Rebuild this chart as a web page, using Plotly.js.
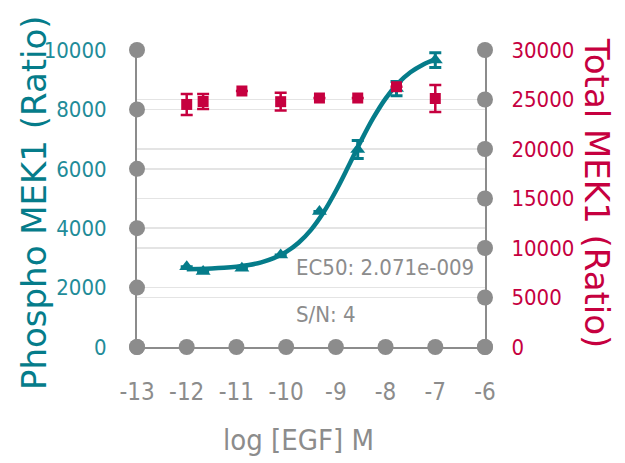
<!DOCTYPE html>
<html>
<head>
<meta charset="utf-8">
<script src="https://cdn.plot.ly/plotly-3.0.1.min.js"></script>
<style>html,body{margin:0;padding:0;background:#fff;}#chart{width:625px;height:463px;}</style>
</head>
<body>
<div id="chart"></div>
<script>
// ---- data ----
const logEGF = [-12, -11.67, -10.89, -10.11, -9.33, -8.56, -7.78, -7];
const phosphoMEK1 = [2700, 2540, 2650, 3100, 4560, 6650, 8700, 9660];
const phosphoErr = [0, 0, 0, 0, 0, 300, 240, 250];
const totalMEK1 = [24500, 24800, 25860, 24780, 25150, 25150, 26290, 25100];
const totalErr = [1060, 760, 0, 900, 0, 0, 0, 1360];
// fitted curve
const curveX = [-12, -11.75, -11.5, -11.25, -11, -10.75, -10.5, -10.25, -10, -9.75, -9.5, -9.25, -9, -8.75, -8.5, -8.25, -8, -7.75, -7.5, -7.25, -7];
const curveY = [2616, 2626, 2641, 2665, 2702, 2761, 2852, 2992, 3202, 3510, 3945, 4527, 5252, 6074, 6920, 7703, 8363, 8876, 9249, 9507, 9681];
const xTicks = [-13, -12, -11, -10, -9, -8, -7, -6];
const xTickText = ['-13', '-12', '-11', '-10', '-9', '-8', '-7', '-6'];
const leftTicks = [0, 2000, 4000, 6000, 8000, 10000];
const leftTickText = ['0', '2000', '4000', '6000', '8000', '10000'];
const rightTicks = [0, 5000, 10000, 15000, 20000, 25000, 30000];
const rightTickText = ['0', '5000', '10000', '15000', '20000', '25000', '30000'];
const ec50Text = 'EC50: 2.071e-009';
const snText = 'S/N: 4';

const teal = '#057C8A';
const tealTick = '#1F8C99';
const crimson = '#C6003F';
const grey = '#8C8C8C';
const narrow = '"DejaVu Sans Condensed", "DejaVu Sans", sans-serif';

const traces = [
  {x: curveX, y: curveY, mode: 'lines', line: {color: teal, width: 4.5, shape: 'spline'}, hoverinfo: 'skip', xaxis: 'x', yaxis: 'y'},
  {x: logEGF, y: phosphoMEK1, mode: 'markers', marker: {symbol: 'triangle-up', size: 13, color: teal},
   error_y: {type: 'data', array: phosphoErr, visible: true, color: teal, thickness: 3, width: 6}, xaxis: 'x', yaxis: 'y'},
  {x: logEGF, y: totalMEK1, mode: 'markers', marker: {symbol: 'square', size: 11, color: crimson},
   error_y: {type: 'data', array: totalErr, visible: true, color: crimson, thickness: 2.5, width: 6}, xaxis: 'x', yaxis: 'y2'},
  // tick dots
  {x: xTicks, y: xTicks.map(() => 0), mode: 'markers', marker: {size: 16, color: grey}, cliponaxis: false, hoverinfo: 'skip', xaxis: 'x', yaxis: 'y'},
  {x: leftTicks.map(() => xTicks[0]), y: leftTicks, mode: 'markers', marker: {size: 16, color: grey}, cliponaxis: false, hoverinfo: 'skip', xaxis: 'x', yaxis: 'y'},
  {x: rightTicks.map(() => xTicks[xTicks.length - 1]), y: rightTicks, mode: 'markers', marker: {size: 16, color: grey}, cliponaxis: false, hoverinfo: 'skip', xaxis: 'x', yaxis: 'y2'}
];

const layout = {
  width: 625, height: 463,
  margin: {l: 137, r: 140, t: 50, b: 116},
  paper_bgcolor: '#fff', plot_bgcolor: '#fff',
  showlegend: false,
  xaxis: {range: [-13, -6], tickvals: xTicks, ticktext: xTickText, showgrid: false, zeroline: false,
    showline: true, linecolor: grey, linewidth: 2, ticks: '', ticklabelstandoff: 22,
    tickfont: {family: narrow, size: 24, color: grey}},
  yaxis: {range: [0, 10000], tickvals: leftTicks, ticktext: leftTickText, showgrid: true, gridcolor: '#E4E4E4', gridwidth: 1.5, zeroline: false,
    showline: true, linecolor: grey, linewidth: 2, ticks: '', ticklabelstandoff: 24,
    tickfont: {family: narrow, size: 22, color: tealTick}},
  yaxis2: {range: [0, 30000], tickvals: rightTicks, ticktext: rightTickText, overlaying: 'y', side: 'right', showgrid: true, gridcolor: '#E4E4E4', gridwidth: 1.5,
    zeroline: false, showline: true, linecolor: grey, linewidth: 2, ticks: '', ticklabelstandoff: 20,
    tickfont: {family: narrow, size: 22, color: crimson}},
  shapes: [
    {type: 'rect', xref: 'paper', yref: 'paper', x0: 0.445, x1: 0.972, y0: 0.02, y1: 0.318,
     fillcolor: '#fff', line: {width: 0}, layer: 'between'}
  ],
  annotations: [
    {text: 'Phospho MEK1 (Ratio)', xref: 'paper', yref: 'paper', x: -0.296, y: 0.488, xanchor: 'center', yanchor: 'middle',
     textangle: -90, showarrow: false, font: {family: '"DejaVu Sans", sans-serif', size: 34, color: teal}},
    {text: 'Total MEK1 (Ratio)', xref: 'paper', yref: 'paper', x: 1.322, y: 0.519, xanchor: 'center', yanchor: 'middle',
     textangle: 90, showarrow: false, font: {family: '"DejaVu Sans", sans-serif', size: 34, color: crimson}},
    {text: 'log [EGF] M', xref: 'paper', yref: 'paper', x: 0.464, y: -0.313, xanchor: 'center', yanchor: 'middle',
     showarrow: false, font: {family: narrow, size: 29, color: grey}},
    {text: ec50Text, xref: 'paper', yref: 'paper', x: 0.452, y: 0.266, xanchor: 'left', yanchor: 'middle',
     showarrow: false, font: {family: narrow, size: 22, color: grey}},
    {text: snText, xref: 'paper', yref: 'paper', x: 0.452, y: 0.108, xanchor: 'left', yanchor: 'middle',
     showarrow: false, font: {family: narrow, size: 22, color: grey}}
  ]
};

Plotly.newPlot('chart', traces, layout, {staticPlot: true, displayModeBar: false});
</script>
</body>
</html>
